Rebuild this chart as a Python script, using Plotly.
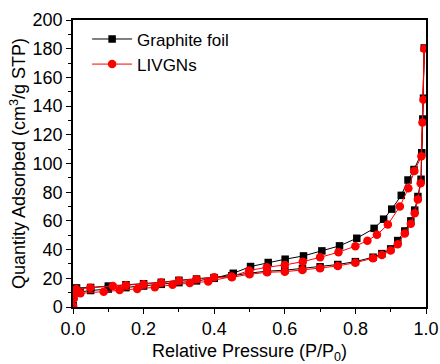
import plotly.graph_objects as go

# Graphite foil (adsorption then desorption)
gf_ads_x = [0.0005, 0.002, 0.005, 0.01, 0.05, 0.10, 0.15, 0.20, 0.25, 0.30, 0.35, 0.40, 0.45, 0.50,
            0.55, 0.60, 0.65, 0.70, 0.75, 0.80, 0.85, 0.875, 0.90, 0.92, 0.94, 0.957, 0.968, 0.977,
            0.986, 0.995]
gf_ads_y = [1, 7, 11, 13.3, 13.6, 14.6, 15.5, 16.2, 17.2, 18.6, 19.5, 20.5, 21.8, 23.6,
            25.0, 25.6, 26.8, 28.0, 29.6, 31.6, 34.7, 37.2, 40.5, 46.3, 53.0, 60.0, 67.5, 77.0,
            89.0, 180.5]
gf_des_x = [0.993, 0.991, 0.988, 0.966, 0.949, 0.93, 0.903, 0.88, 0.853, 0.804, 0.755, 0.705,
            0.653, 0.601, 0.553, 0.503, 0.454, 0.40, 0.35, 0.30, 0.25, 0.20, 0.15, 0.10, 0.05, 0.02]
gf_des_y = [145.5, 131, 107.5, 95.8, 88.5, 77.8, 68.2, 61.2, 54.8, 47.9, 42.6, 39.1,
            35.6, 33.3, 31.0, 28.2, 23.5, 20.0, 18.2, 17.0, 15.8, 14.6, 13.5, 12.5, 11.5, 10.5]

# LIVGNs (adsorption then desorption)
lv_ads_x = [0.0005, 0.002, 0.005, 0.009, 0.049, 0.113, 0.15, 0.20, 0.25, 0.30, 0.35, 0.40, 0.45,
            0.50, 0.55, 0.60, 0.65, 0.70, 0.75, 0.80, 0.85, 0.875, 0.90, 0.92, 0.94, 0.957, 0.968,
            0.977, 0.985, 0.995]
lv_ads_y = [0.5, 6, 10, 12.5, 13.5, 14.7, 15.2, 15.9, 17.0, 18.3, 19.3, 20.7, 20.7,
            22.8, 24.2, 24.6, 25.8, 27.0, 28.6, 30.9, 34.0, 36.2, 39.3, 43.8, 51.2, 58.0, 65.4,
            75.0, 86.2, 180]
lv_des_x = [0.993, 0.99, 0.987, 0.967, 0.95, 0.926, 0.892, 0.861, 0.834, 0.80, 0.752, 0.70,
            0.651, 0.60, 0.549, 0.499, 0.449, 0.383, 0.331, 0.282, 0.232, 0.182, 0.132, 0.087, 0.021]
lv_des_y = [144.5, 128.5, 105, 94.8, 82.8, 70, 57.5, 50.3, 46.2, 42.4, 38.2, 34.6,
            31.6, 29.3, 27.7, 25.4, 21.2, 17.8, 16.7, 15.5, 13.7, 12.6, 11.9, 10.7, 9.6]

x_ticks = [0.0, 0.2, 0.4, 0.6, 0.8, 1.0]
x_tick_text = ["0.0", "0.2", "0.4", "0.6", "0.8", "1.0"]
y_ticks = [0, 20, 40, 60, 80, 100, 120, 140, 160, 180, 200]

FONT = "Arial, Liberation Sans, sans-serif"

fig = go.Figure()
fig.add_trace(go.Scatter(
    x=gf_ads_x + gf_des_x, y=gf_ads_y + gf_des_y, mode="lines+markers",
    name="Graphite foil",
    line=dict(color="black", width=1),
    marker=dict(symbol="square", size=7.5, color="black"),
))
fig.add_trace(go.Scatter(
    x=lv_ads_x + lv_des_x, y=lv_ads_y + lv_des_y, mode="lines+markers",
    name="LIVGNs",
    line=dict(color="#ff0000", width=1),
    marker=dict(symbol="circle", size=8.5, color="#ff0000"),
))

axis_common = dict(
    showline=True, linecolor="black", linewidth=1.5, mirror=True,
    ticks="outside", ticklen=5, tickwidth=1.2, tickcolor="black",
    showgrid=False, zeroline=False, automargin=False,
    tickfont=dict(family=FONT, size=18, color="black"),
)

fig.update_xaxes(
    range=[0, 1.0], tickvals=x_ticks, ticktext=x_tick_text,
    minor=dict(dtick=0.1, ticks="outside", ticklen=3, tickwidth=1.2, tickcolor="black"),
    title=dict(text="Relative Pressure (P/P<sub>0</sub>)", font=dict(family=FONT, size=18, color="black"),
               standoff=6),
    **axis_common,
)
fig.update_yaxes(
    range=[0, 200], tickvals=y_ticks,
    minor=dict(dtick=10, ticks="outside", ticklen=3, tickwidth=1.2, tickcolor="black"),
    title=dict(text="Quantity Adsorbed (cm<sup>3</sup>/g STP)", font=dict(family=FONT, size=18, color="black"),
               standoff=2),
    **axis_common,
)

fig.update_layout(
    width=440, height=364,
    margin=dict(l=73, r=14, t=20, b=57),
    paper_bgcolor="white", plot_bgcolor="white",
    font=dict(family=FONT, size=18, color="black"),
    showlegend=True,
    legend=dict(x=0.04, y=0.995, xanchor="left", yanchor="top",
                bgcolor="rgba(0,0,0,0)", borderwidth=0,
                font=dict(family=FONT, size=17, color="black"),
                tracegroupgap=0, itemwidth=40),
)

fig.write_html("out.html")
